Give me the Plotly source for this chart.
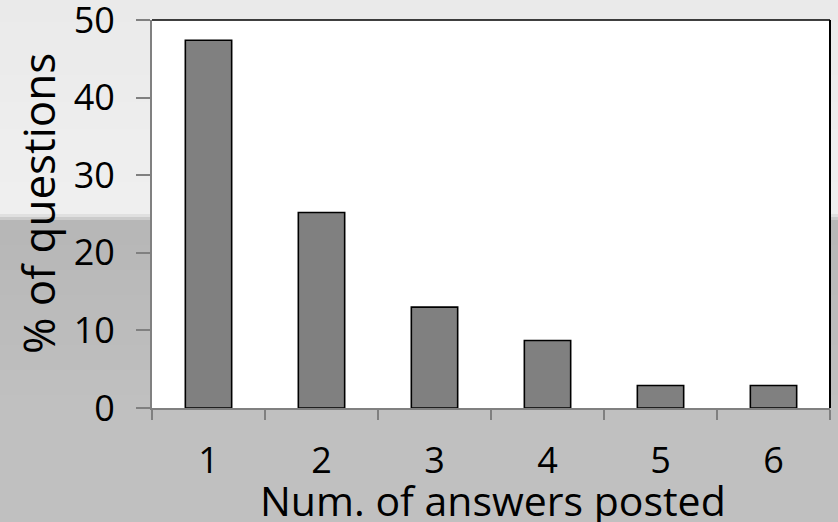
import plotly.graph_objects as go

# Share of questions by number of answers posted
answers = ["1", "2", "3", "4", "5", "6"]
pct_questions = [47.4, 25.2, 13.0, 8.7, 2.9, 2.9]
y_ticks = [0, 10, 20, 30, 40, 50]

FONT = "Open Sans"
W, H = 838, 522
L, R, T, B = 152, 8, 20, 114


def lerp_hex(c0, c1, t):
    a = [int(c0[i:i + 2], 16) for i in (1, 3, 5)]
    b = [int(c1[i:i + 2], 16) for i in (1, 3, 5)]
    return "#" + "".join(f"{round(x + (y - x) * t):02x}" for x, y in zip(a, b))


def py(p):
    # pixel row -> paper coordinate (paper spans the plot area)
    return 1 - (p - T) / (H - T - B)


def px(p):
    return (p - L) / (W - L - R)


fig = go.Figure(
    go.Bar(
        x=answers,
        y=pct_questions,
        marker=dict(color="#808080", line=dict(color="#000000", width=1.6)),
    )
)

shapes = []


def band(y0, y1, col):
    shapes.append(dict(
        type="rect", xref="paper", yref="paper", layer="below",
        x0=px(-5), x1=px(W + 5), y0=py(y1), y1=py(y0),
        fillcolor=col, line_width=0,
    ))


# Page background: light upper panel, thin transition bands, darker lower panel.
# Each step overlaps the next so no seams appear between them.
top_end, lower_start = 214, 220
n = 8
for i in range(n):
    band(-5 + i * top_end / n, top_end, lerp_hex("#eaeaea", "#efefef", i / (n - 1)))
band(214, 217, "#e0e0e0")
band(217, 220, "#cbcbcb")
m = 8
for i in range(m):
    band(lower_start + i * 25, H + 5, lerp_hex("#b7b7b7", "#c0c0c0", i / (m - 1)))

# White plot area
shapes.append(dict(type="rect", xref="paper", yref="paper", layer="below",
                   x0=0, x1=1, y0=0, y1=1, fillcolor="#ffffff", line_width=0))
# Black frame on top and right
shapes.append(dict(type="line", xref="paper", yref="paper", x0=0, x1=1, y0=1, y1=1,
                   line=dict(color="#000000", width=1.6)))
shapes.append(dict(type="line", xref="paper", yref="paper", x0=1, x1=1, y0=0, y1=1,
                   line=dict(color="#000000", width=2)))

annotations = [
    dict(text="Num. of answers posted", xref="paper", yref="paper",
         x=px(493), y=py(500), xanchor="center", yanchor="middle",
         showarrow=False, font=dict(size=41, family=FONT, color="#000000")),
    dict(text="% of questions", xref="paper", yref="paper",
         x=px(38), y=py(203), xanchor="center", yanchor="middle", textangle=-90,
         showarrow=False, font=dict(size=44, family=FONT, color="#000000")),
]

fig.update_layout(
    width=W, height=H,
    margin=dict(l=L, r=R, t=T, b=B, pad=0),
    paper_bgcolor="#c0c0c0",
    plot_bgcolor="rgba(0,0,0,0)",
    bargap=0.59,
    showlegend=False,
    shapes=shapes,
    annotations=annotations,
    font=dict(family=FONT, color="#000000"),
)

fig.update_xaxes(
    type="category",
    tickson="boundaries",
    ticks="outside", ticklen=10, tickwidth=2, tickcolor="#808080",
    showline=True, linecolor="#808080", linewidth=2,
    showgrid=False, zeroline=False,
    tickfont=dict(size=36, family=FONT),
    ticklabelstandoff=20,
    automargin=False,
)
fig.update_yaxes(
    range=[0, 50.001],
    tickvals=y_ticks,
    ticks="outside", ticklen=14, tickwidth=2, tickcolor="#808080",
    showline=True, linecolor="#808080", linewidth=2,
    showgrid=False, zeroline=False,
    tickfont=dict(size=36, family=FONT),
    ticklabelstandoff=14,
    ticklabeloverflow="allow",
    automargin=False,
)

fig.write_html("out.html")
